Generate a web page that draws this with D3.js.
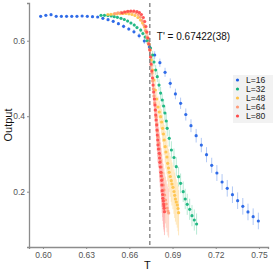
<!DOCTYPE html>
<html><head><meta charset="utf-8">
<script src="https://cdn.jsdelivr.net/npm/d3@7"></script>
<style>body{margin:0;background:#fff}svg{display:block}</style>
</head><body>
<script>
// ---- data ----
const labels = ["L=16","L=32","L=48","L=64","L=80"];
const colors = ["#1d5ee6","#0fb37a","#ffc247","#ff9a78","#ff4a4a"];
const barColors = ["#9fbcf3","#9fe3c6","#ffe0a8","#ffcbb8","#ffb3b3"];
const xTicks = [0.60,0.63,0.66,0.69,0.72,0.75];
const yTicks = [0.2,0.4,0.6];
const Tc = 0.67422;
const TcLabel = "T' = 0.67422(38)";

const T16 = [0.5984,0.6020,0.6056,0.6092,0.6128,0.6164,0.6200,0.6236,0.6272,0.6308,0.6344,0.6380,0.6416,0.6452,0.6488,0.6524,0.6560,0.6596,0.6632,0.6668,0.6704,0.6740,0.6776,0.6812,0.6848,0.6884,0.6920,0.6956,0.6992,0.7028,0.7064,0.7100,0.7136,0.7172,0.7208,0.7244,0.7280,0.7316,0.7352,0.7388,0.7424,0.7460,0.7496];
const V16 = [0.6646,0.6673,0.6689,0.6646,0.6646,0.6646,0.6646,0.6646,0.6654,0.6646,0.6636,0.6628,0.6593,0.6556,0.6514,0.6450,0.6381,0.6310,0.6238,0.6132,0.5992,0.5833,0.5621,0.5417,0.5163,0.4872,0.4589,0.4342,0.4045,0.3748,0.3483,0.3236,0.2980,0.2699,0.2495,0.2257,0.2090,0.1920,0.1762,0.1613,0.1463,0.1338,0.1224];
const E16 = [0.002,0.002,0.002,0.002,0.002,0.002,0.002,0.002,0.002,0.002,0.002,0.002,0.003,0.003,0.004,0.004,0.005,0.005,0.006,0.007,0.008,0.009,0.010,0.011,0.012,0.013,0.014,0.015,0.016,0.017,0.018,0.019,0.020,0.020,0.021,0.021,0.022,0.022,0.022,0.022,0.022,0.022,0.022];

const T32 = [0.6403,0.6427,0.6451,0.6474,0.6495,0.6517,0.6542,0.6565,0.6588,0.6611,0.6634,0.6653,0.6679,0.6694,0.6710,0.6724,0.6736,0.6747,0.6762,0.6771,0.6783,0.6794,0.6806,0.6817,0.6828,0.6838,0.6847,0.6856,0.6863,0.6877,0.6892,0.6910,0.6926,0.6942,0.6956,0.6974,0.6988,0.7002,0.7019,0.7035,0.7051,0.7067];
const V32 = [0.6673,0.6673,0.6665,0.6654,0.6636,0.6620,0.6593,0.6562,0.6522,0.6469,0.6416,0.6350,0.6283,0.6191,0.6098,0.6000,0.5913,0.5807,0.5621,0.5436,0.5224,0.5046,0.4826,0.4614,0.4429,0.4270,0.4085,0.3873,0.3679,0.3415,0.3105,0.2906,0.2662,0.2397,0.2222,0.2000,0.1807,0.1666,0.1534,0.1364,0.1250,0.1144];
const E32 = [0.002,0.002,0.002,0.002,0.002,0.003,0.003,0.003,0.004,0.004,0.005,0.005,0.006,0.006,0.007,0.008,0.009,0.010,0.011,0.012,0.013,0.014,0.015,0.016,0.017,0.018,0.019,0.020,0.021,0.022,0.023,0.024,0.025,0.026,0.026,0.027,0.027,0.028,0.028,0.028,0.028,0.028];

const T48 = [0.6451,0.6472,0.6493,0.6514,0.6535,0.6556,0.6576,0.6597,0.6618,0.6639,0.6660,0.6677,0.6691,0.6705,0.6717,0.6728,0.6736,0.6745,0.6753,0.6762,0.6771,0.6780,0.6790,0.6799,0.6808,0.6817,0.6824,0.6831,0.6837,0.6842,0.6849,0.6854,0.6861,0.6866,0.6872,0.6877,0.6884,0.6891,0.6896,0.6903,0.6910,0.6915,0.6920,0.6926,0.6933,0.6938,0.6942];
const V48 = [0.6694,0.6699,0.6707,0.6713,0.6718,0.6721,0.6721,0.6713,0.6694,0.6668,0.6615,0.6548,0.6469,0.6363,0.6230,0.6072,0.5913,0.5754,0.5489,0.5224,0.4959,0.4694,0.4456,0.4244,0.4111,0.3987,0.3846,0.3679,0.3528,0.3370,0.3192,0.3052,0.2919,0.2752,0.2628,0.2514,0.2403,0.2291,0.2204,0.2117,0.2005,0.1905,0.1807,0.1727,0.1648,0.1555,0.1444];
const E48 = [0.003,0.003,0.003,0.003,0.003,0.003,0.003,0.003,0.003,0.003,0.004,0.005,0.006,0.008,0.010,0.012,0.014,0.016,0.018,0.020,0.022,0.024,0.026,0.028,0.030,0.032,0.034,0.036,0.038,0.040,0.042,0.044,0.046,0.048,0.050,0.052,0.054,0.056,0.057,0.058,0.059,0.060,0.060,0.060,0.060,0.060,0.060];

const T64 = [0.6500,0.6521,0.6542,0.6563,0.6583,0.6604,0.6625,0.6646,0.6663,0.6677,0.6690,0.6701,0.6712,0.6722,0.6731,0.6740,0.6747,0.6752,0.6757,0.6762,0.6767,0.6771,0.6776,0.6781,0.6785,0.6790,0.6794,0.6799,0.6804,0.6808,0.6813,0.6817,0.6822,0.6826,0.6831,0.6835,0.6840,0.6845,0.6851,0.6856,0.6862,0.6868,0.6873];
const V64 = [0.6721,0.6739,0.6752,0.6760,0.6766,0.6766,0.6760,0.6739,0.6694,0.6628,0.6535,0.6416,0.6270,0.6098,0.5939,0.5780,0.5568,0.5356,0.5144,0.4932,0.4720,0.4535,0.4350,0.4164,0.3979,0.3793,0.3608,0.3449,0.3290,0.3131,0.2972,0.2813,0.2654,0.2495,0.2336,0.2177,0.2045,0.1913,0.1780,0.1674,0.1568,0.1489,0.1436];
const E64 = [0.003,0.003,0.003,0.003,0.003,0.003,0.003,0.003,0.004,0.005,0.006,0.008,0.010,0.012,0.014,0.016,0.018,0.020,0.022,0.024,0.026,0.028,0.030,0.032,0.034,0.036,0.038,0.040,0.042,0.044,0.046,0.048,0.050,0.052,0.054,0.056,0.058,0.060,0.062,0.063,0.064,0.065,0.065];

const T80 = [0.6549,0.6569,0.6590,0.6611,0.6632,0.6653,0.6670,0.6684,0.6697,0.6707,0.6715,0.6722,0.6729,0.6736,0.6742,0.6747,0.6751,0.6756,0.6761,0.6765,0.6769,0.6774,0.6778,0.6780,0.6783,0.6786,0.6790,0.6792,0.6794,0.6797,0.6799,0.6802,0.6808,0.6810,0.6812,0.6815,0.6819,0.6822,0.6824,0.6826,0.6828,0.6831,0.6833,0.6836,0.6838,0.6840,0.6842,0.6844];
const V80 = [0.6734,0.6760,0.6779,0.6787,0.6787,0.6773,0.6747,0.6694,0.6615,0.6509,0.6376,0.6230,0.6072,0.5913,0.5754,0.5568,0.5383,0.5197,0.5012,0.4826,0.4641,0.4456,0.4297,0.4164,0.4032,0.3899,0.3767,0.3635,0.3502,0.3370,0.3237,0.3131,0.3017,0.2893,0.2779,0.2654,0.2514,0.2416,0.2302,0.2178,0.2027,0.1926,0.1825,0.1754,0.1674,0.1621,0.1560,0.1470];
const E80 = [0.003,0.003,0.003,0.003,0.003,0.003,0.003,0.003,0.004,0.005,0.006,0.008,0.010,0.012,0.014,0.016,0.018,0.020,0.022,0.024,0.026,0.028,0.030,0.032,0.034,0.036,0.038,0.040,0.042,0.044,0.046,0.048,0.050,0.052,0.053,0.054,0.055,0.056,0.057,0.058,0.059,0.060,0.060,0.061,0.061,0.062,0.062,0.062];

const seriesT = [T16,T32,T48,T64,T80];
const seriesV = [V16,V32,V48,V64,V80];
const seriesE = [E16,E32,E48,E64,E80];

// ---- chart ----
const W = 273, H = 273;
const svg = d3.select("body").append("svg").attr("width",W).attr("height",H)
  .style("font-family","Liberation Sans, Arial, sans-serif");

const x = d3.scaleLinear().domain([0.5903,0.7563]).range([29,268]);
const y = d3.scaleLinear().domain([0.0535,0.6999]).range([247,3]);

const series = labels.map((l,i)=>({label:l,color:colors[i],bar:barColors[i],
  pts:seriesT[i].map((t,j)=>({t,v:seriesV[i][j],e:seriesE[i][j]}))}));

// error bars
series.forEach((s,i)=>{
  svg.append("g").selectAll("line").data(s.pts).join("line")
    .attr("x1",d=>x(d.t)).attr("x2",d=>x(d.t))
    .attr("y1",d=>y(d.v-d.e)).attr("y2",d=>y(d.v+d.e))
    .attr("stroke",s.bar).attr("stroke-width",1).attr("stroke-opacity",i===0?0.8:0.75);
});
// points
series.forEach(s=>{
  svg.append("g").selectAll("circle").data(s.pts).join("circle")
    .attr("cx",d=>x(d.t)).attr("cy",d=>y(d.v)).attr("r",1.6)
    .attr("fill",s.color).attr("fill-opacity",0.9);
});

// axes
const xAxis = d3.axisBottom(x).tickValues(xTicks).tickFormat(d3.format(".2f")).tickSize(2).tickPadding(3);
const yAxis = d3.axisLeft(y).tickValues(yTicks).tickFormat(d3.format(".1f")).tickSize(2).tickPadding(2);
const gx = svg.append("g").attr("transform","translate(0,247)").call(xAxis);
const gy = svg.append("g").attr("transform","translate(29,0)").call(yAxis);
[gx,gy].forEach(g=>{
  g.select(".domain").attr("stroke","#8c8c8c").attr("stroke-width",1.3);
  g.selectAll(".tick line").attr("stroke","#8c8c8c");
  g.selectAll(".tick text").attr("fill","#555").style("font-size","8.5px");
});

// dashed line
svg.append("line").attr("x1",x(Tc)).attr("x2",x(Tc)).attr("y1",3).attr("y2",247)
  .attr("stroke","#7a7a7a").attr("stroke-width",1.3).attr("stroke-dasharray","4,3");

svg.append("text").attr("x",x(Tc)+7).attr("y",40).text(TcLabel)
  .style("font-size","10px").attr("fill","#111");

// axis titles
svg.append("text").attr("x",x(0.6725)).attr("y",269).attr("text-anchor","middle")
  .text("T").style("font-size","11px").attr("fill","#111");
svg.append("text").attr("transform","translate(12,"+((3+247)/2)+") rotate(-90)")
  .attr("text-anchor","middle").text("Output").style("font-size","11px").attr("fill","#111");

// legend
const lg = svg.append("g").attr("transform","translate(233,75)");
lg.append("rect").attr("x",0).attr("y",0).attr("width",40).attr("height",48)
  .attr("fill","#f2f2f2");
series.forEach((s,i)=>{
  lg.append("circle").attr("cx",4.5).attr("cy",5+i*9).attr("r",1.6).attr("fill",s.color);
  lg.append("text").attr("x",13).attr("y",5+i*9).attr("dy","0.35em").text(s.label)
    .style("font-size","8.6px").attr("fill","#222");
});
</script>
</body></html>
